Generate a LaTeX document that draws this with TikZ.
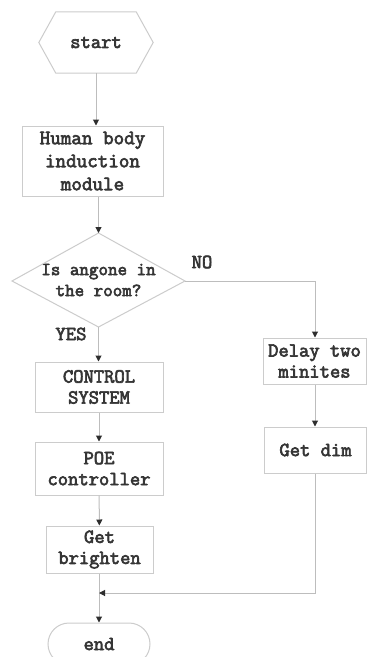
\documentclass[tikz,border=0pt]{standalone}
\usepackage{fontspec}
\newfontfamily\tyfont[FakeBold=3.2]{Latin Modern Mono}
\usetikzlibrary{arrows.meta,shapes.misc,calc}
\definecolor{boxline}{HTML}{CCCCCC}
\definecolor{conline}{HTML}{BDBDBD}
\definecolor{txt}{HTML}{353535}
\definecolor{tip}{HTML}{2E2E2E}
\begin{document}
\begin{tikzpicture}[x=1pt,y=-1pt,
  lbl/.style={font=\fontsize{20}{21}\selectfont\tyfont, text=txt, align=center, inner sep=0pt},
  box/.style={lbl, draw=boxline, line width=1pt, rectangle},
  con/.style={draw=conline, line width=1pt},
  arr/.style={con, -{Triangle[width=6pt,length=6pt,color=tip]}}]
\fill[white] (0,0) rectangle (368,657);
\useasboundingbox (0,0) rectangle (368,657);

% start hexagon
\node[lbl, minimum width=80pt, minimum height=61pt] (start) at (96,42.5) {start};
\draw[draw=boxline, line width=1pt] (start.north west) -- (start.north east) -- ([xshift=17pt]start.east)
  -- (start.south east) -- (start.south west) -- ([xshift=-17pt]start.west) -- cycle;

\node[box, minimum width=141pt, minimum height=70pt, font=\fontsize{20.5}{23}\selectfont\tyfont] (human) at (92.5,161) {Human body\\induction\\module};

% decision diamond
\node[lbl, font=\fontsize{18.5}{21}\selectfont\tyfont] (dec) at (98.5,280) {Is angone in\\the room?};
\coordinate (decN) at (98.5,233);
\coordinate (decS) at (98.5,327);
\coordinate (decE) at (185,281);
\coordinate (decW) at (12,281);
\draw[draw=boxline, line width=1pt] (decN) -- (decE) -- (decS) -- (decW) -- cycle;

\node[lbl] (no) at (202,262) {NO};
\node[lbl] (yes) at (71,334) {YES};

\node[box, minimum width=128pt, minimum height=50pt] (control) at (99,387) {CONTROL\\SYSTEM};
\node[box, minimum width=128pt, minimum height=53pt] (poe) at (99,468.5) {POE\\controller};
\node[box, minimum width=107pt, minimum height=47pt] (bright) at (99.5,549.5) {Get\\brighten};
\node[box, rounded rectangle, minimum width=102pt, minimum height=42pt] (end) at (99,644) {end};

\node[box, minimum width=103pt, minimum height=46pt] (delay) at (314.5,361) {Delay two\\minites};
\node[box, minimum width=102pt, minimum height=46pt] (dim) at (315.5,450) {Get dim};

\coordinate (noturn) at (315,281);
\coordinate (join) at (99,593);
\coordinate (dimturn) at (315,593);

% connectors
\draw[arr] (start.south) -- (start.south |- human.north);
\draw[arr] (human.south -| decN) -- (decN);
\draw[arr] (decS) -- (decS |- control.north);
\draw[arr] (control) -- (poe);
\draw[arr] (poe) -- (bright);
\draw[arr] (bright.south -| end.north) -- (end.north);
\draw[arr] (decE) -- (noturn) -- (noturn |- delay.north);
\draw[arr] (delay.south -| noturn) -- (noturn |- dim.north);
\draw[arr] (dim.south -| dimturn) -- (dimturn) -- (join);
\end{tikzpicture}
\end{document}
